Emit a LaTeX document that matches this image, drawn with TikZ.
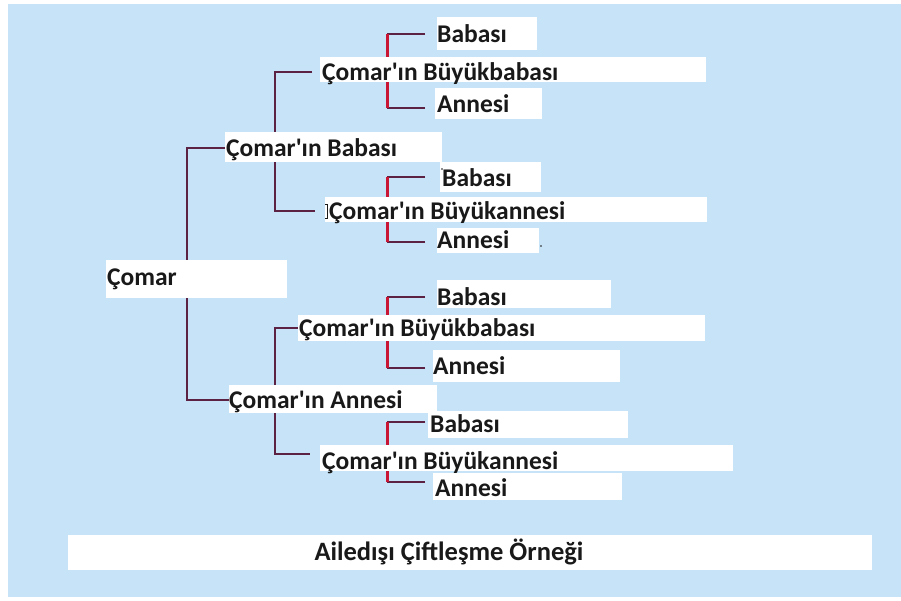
\documentclass[tikz,border=0pt]{standalone}
\usepackage{fontspec}
\setmainfont{Carlito}
\pgfdeclarelayer{bglayer}
\pgfdeclarelayer{linelayer}
\pgfsetlayers{bglayer,linelayer,main}
\definecolor{bgblue}{RGB}{198,227,248}
\definecolor{linedark}{RGB}{92,34,68}
\definecolor{linered}{RGB}{200,22,52}
\definecolor{txt}{RGB}{25,25,25}
\newcommand\ap{\textquotesingle}
\begin{document}
\begin{tikzpicture}[x=1pt,y=-1pt,
  lbl/.style={anchor=west, inner sep=0pt, text height=16.4pt, text depth=0pt,
              font=\bfseries\fontsize{25.5}{25.5}\selectfont, text=txt},
  wbox/.style={fill=white},
  conn/.style={draw=linedark, line width=1.8pt},
  hd/.style={draw=linedark, line width=2pt},
  rv/.style={draw=linered, line width=3pt}]
\useasboundingbox (0,0) rectangle (901,601);
% background
\begin{pgfonlayer}{bglayer}
\fill[white] (0,0) rectangle (901,601);
\fill[bgblue] (8,4) rectangle (901,597);
\end{pgfonlayer}
% white boxes
\fill[wbox] (437,17) rectangle (537,50);
\fill[wbox] (320,57) rectangle (706,82);
\fill[wbox] (435,88) rectangle (542,119);
\fill[wbox] (225,132) rectangle (442,162);
\fill[wbox] (440,162) rectangle (541,192);
\fill[wbox] (325,197) rectangle (707,222);
\fill[wbox] (437,228) rectangle (539,253);
\fill[wbox] (106,260) rectangle (287,298);
\fill[wbox] (437,280) rectangle (611,308);
\fill[wbox] (298,315) rectangle (705,341);
\fill[wbox] (433,350) rectangle (620,382);
\fill[wbox] (229,385) rectangle (437,413);
\fill[wbox] (428,411) rectangle (628,438);
\fill[wbox] (320,445) rectangle (733,471);
\fill[wbox] (433,473) rectangle (622,500);
\fill[wbox] (68,535) rectangle (872,570);
% labels
\node[lbl] (comar)  at (107,277) {Çomar};
\node[lbl] (baba)   at (226,148) {Çomar\ap ın Babası};
\node[lbl] (anne)   at (229,400) {Çomar\ap ın Annesi};
\node[lbl] (bbaba1) at (322,72)  {Çomar\ap ın Büyükbabası};
\node[lbl] (bab1)   at (437,34)  {Babası};
\node[lbl] (ann1)   at (437,104) {Annesi};
\node[lbl] (bab2)   at (442,178) {Babası};
\node[lbl] (banne1) at (329,211) {Çomar\ap ın Büyükannesi};
\node[lbl] (ann2)   at (437,240) {Annesi};
\node[lbl] (bab3)   at (437,297) {Babası};
\node[lbl] (bbaba2) at (299,328) {Çomar\ap ın Büyükbabası};
\node[lbl] (ann3)   at (433,366) {Annesi};
\node[lbl] (bab4)   at (430,424) {Babası};
\node[lbl] (banne2) at (322,461) {Çomar\ap ın Büyükannesi};
\node[lbl] (ann4)   at (435,488) {Annesi};
\node[lbl, anchor=center, font=\bfseries\fontsize{26.5}{26.5}\selectfont] (title) at (449,552) {Ailedışı Çiftleşme Örneği};
% stray marks
\draw[txt, line width=0.6pt] (325,204) -- (327,204) -- (327,218) -- (325,218);
\fill[txt] (442,169) circle (0.8);
\fill[txt] (541,246) circle (0.8);
% connectors
\begin{pgfonlayer}{linelayer}
\coordinate (j1) at (187,270);
\draw[conn] (baba.west) -| (j1) |- (anne.west);
\coordinate (j2) at (275,140);
\draw[conn] ([xshift=-10pt]bbaba1.west) -| (j2) |- ([xshift=-14pt]banne1.west);
\coordinate (j3) at (275,390);
\draw[conn] ([xshift=-1pt]bbaba2.west) -| (j3) |- ([xshift=-12pt,yshift=7pt]banne2.west);
% level 3
\foreach \t/\b/\tb/\bb in {bab1/ann1/0/-4, bab2/ann2/1/-2, bab3/ann3/0/-2, bab4/ann4/2/6}{
  \draw[hd] ([yshift=\tb pt]\t.west -| 425,0) -- ([yshift=\tb pt]\t.west -| 387,0);
  \draw[hd] ([yshift=\bb pt]\b.west -| 425,0) -- ([yshift=\bb pt]\b.west -| 387,0);
  \draw[rv] ([yshift=\tb pt]\t.west -| 387,0) -- ([yshift=\bb pt]\b.west -| 387,0);
}
\end{pgfonlayer}
\end{tikzpicture}
\end{document}
